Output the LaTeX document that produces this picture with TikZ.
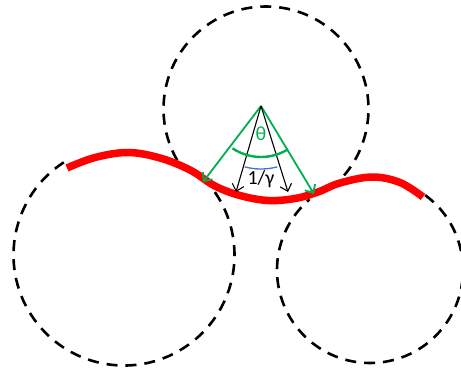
\documentclass[tikz,border=0pt]{standalone}
\usepackage{fontspec}
\setmainfont{Carlito}
\usetikzlibrary{arrows.meta}
\definecolor{ogreen}{HTML}{00B050}
\definecolor{oblue}{HTML}{4472C4}
\begin{document}
\begin{tikzpicture}[x=1pt,y=-1pt,
  dashcirc/.style={line width=2.6pt, dash pattern=on 11pt off 8pt, black},
  redwave/.style={line width=7.5pt, red},
  barb/.style={-{Straight Barb[length=6.5pt,width=12pt]}},
  greenray/.style={barb, ogreen, line width=1.8pt},
  blackray/.style={barb, black, line width=1.1pt},
  lbl/.style={inner sep=0pt, font=\fontsize{20}{22}\selectfont}]
\useasboundingbox (0,0) rectangle (461,372);
\clip (0,0) rectangle (461,372);

% centres of the three dashed circles
\coordinate (cl) at (124,255);
\coordinate (ct) at (266,109);
\coordinate (cr) at (370,270);

% dashed arcs (image angles, y downward)
\draw[dashcirc] (cl) ++(-123:110.5) arc[start angle=-123, end angle=-402, radius=110.5];
\draw[dashcirc] (ct) ++(51:102.5) arc[start angle=51, end angle=-216, radius=102.5];
\draw[dashcirc] (cr) ++(-53.6:93) arc[start angle=-53.6, end angle=229.4, radius=93];

% red wave
\draw[redwave] plot[smooth, tension=0.6] coordinates {
  (67,168) (95,157.5) (128,152.5) (160,158) (190,170) (215,186) (240,195.5)
  (268,200.5) (295,198.5) (318,192) (340,183) (372,177) (400,182.5) (423,197)};

% apex and ray ends
\coordinate (apex) at (261,106);
\coordinate (gl) at (203,182);
\coordinate (gr) at (314,194);
\coordinate (bl) at (236,192);
\coordinate (br) at (288,192);

\draw[greenray] (apex) -- (gl);
\draw[greenray] (apex) -- (gr);
\draw[blackray] (apex) -- (bl);
\draw[blackray] (apex) -- (br);

% angle arcs
\draw[ogreen, line width=2.4pt] (apex) ++(124:51) arc[start angle=124, end angle=58, radius=51];
\draw[oblue, line width=1.3pt] (apex) ++(105:63) arc[start angle=105, end angle=75, radius=63];

% labels
\node[lbl, text=ogreen] (theta) at (261,134) {θ};
\node[lbl] (gamma) at (261,179.5) {1/γ};
\end{tikzpicture}
\end{document}
